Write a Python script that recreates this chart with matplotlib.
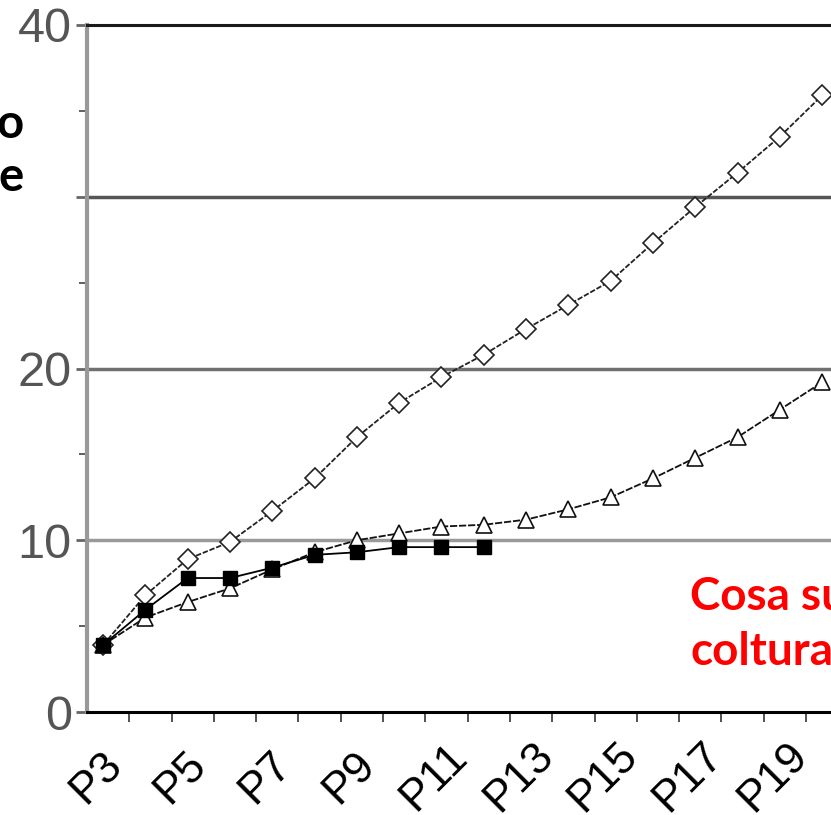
#this file's function is drawing the growth curves chart
import matplotlib
matplotlib.use('Agg')
import matplotlib.pyplot as plt
import matplotlib.transforms as mtrans

categories = ['P3', 'P4', 'P5', 'P6', 'P7', 'P8', 'P9', 'P10', 'P11', 'P12',
              'P13', 'P14', 'P15', 'P16', 'P17', 'P18', 'P19', 'P20']
diamond_vals = [3.9, 6.8, 8.9, 9.9, 11.7, 13.6, 16.0, 18.0, 19.5, 20.8,
                22.3, 23.7, 25.1, 27.3, 29.4, 31.4, 33.5, 35.9]
triangle_vals = [3.9, 5.5, 6.4, 7.2, 8.3, 9.3, 10.0, 10.4, 10.8, 10.9,
                 11.2, 11.8, 12.5, 13.6, 14.8, 16.0, 17.6, 19.2]
square_vals = [3.9, 5.95, 7.8, 7.8, 8.4, 9.15, 9.3, 9.6, 9.6, 9.6]
y_ticks = [0, 10, 20, 30, 40]
y_labels = ['0', '10', '20', '', '40']
red_lines = ['Cosa su', 'coltura']
left_chars = ['o', 'e']

fig = plt.figure( figsize=(8.31, 8.15), dpi=100 )
ax = fig.add_axes( [87/831, 103/815, 1 - 87/831, (712 - 25)/815] )

x = list( range( len(categories) ) )
xs = x[:len(square_vals)]

ax.plot( x, diamond_vals, color='#222222', lw=1.3, ls=(0, (3, 1)),
         marker='D', ms=10, mfc='white', mec='#222222', mew=1.2, zorder=4 )
ax.plot( x, triangle_vals, color='#111111', lw=1.3, ls=(0, (4, 1)),
         marker='^', ms=11, mfc='white', mec='#111111', mew=1.2, zorder=4 )
ax.plot( xs, square_vals, color='black', lw=1.3,
         marker='s', ms=10, mfc='black', mec='black', zorder=5 )

# grid lines, each a bit different grey like the scan
grid_cols = { 10: '#9a9a9a', 20: '#707070', 30: '#555555' }
for yv, c in grid_cols.items():
    ax.axhline( yv, color=c, lw=2.5, zorder=1 )

ax.spines['right'].set_visible( False )
ax.spines['top'].set_color( '#1a1a1a' )
ax.spines['top'].set_linewidth( 2.2 )
ax.spines['left'].set_color( '#999999' )
ax.spines['left'].set_linewidth( 3.0 )
ax.spines['bottom'].set_color( 'black' )
ax.spines['bottom'].set_linewidth( 2.2 )

ax.set_yticks( y_ticks )
ax.set_yticklabels( y_labels, fontsize=35, color='#555555', family='Liberation Sans' )
ax.set_yticks( [5, 15, 25, 35], minor=True )
ax.tick_params( axis='y', which='major', length=8, width=2, color='#666666', pad=3 )
ax.tick_params( axis='y', which='minor', length=6, width=1.2, color='#444444' )

ax.set_xticks( x[::2] )
ax.set_xticklabels( categories[::2], fontsize=32, rotation=45, ha='center', va='center',
                    rotation_mode='anchor', family='Liberation Sans' )
ax.set_xticks( [i + 0.62 for i in x], minor=True )
ax.tick_params( axis='x', which='major', length=0, pad=47 )
ax.tick_params( axis='x', which='minor', length=7, width=1.2, color='#333333' )
off = mtrans.ScaledTranslation( -7/100, 0, fig.dpi_scale_trans )
for lab in ax.get_xticklabels():
    lab.set_transform( lab.get_transform() + off )

# limits after the ticks, set_xticks would widen them
ax.set_xlim( -0.38, 17.21 )
ax.set_ylim( 0, 40 )

# slide text around the chart
for i, t in enumerate( left_chars ):
    fig.text( 24/831, 1 - (138 + 53*i)/815, t, fontsize=34, fontweight='bold',
              family='Lato', ha='right', va='baseline', color='black' )
for i, t in enumerate( red_lines ):
    fig.text( 690/831, 1 - (610 + 55*i)/815, t, fontsize=33, fontweight='bold',
              family='Lato', ha='left', va='baseline', color='#ff0000' )

fig.savefig( 'out.png', dpi=100 )
